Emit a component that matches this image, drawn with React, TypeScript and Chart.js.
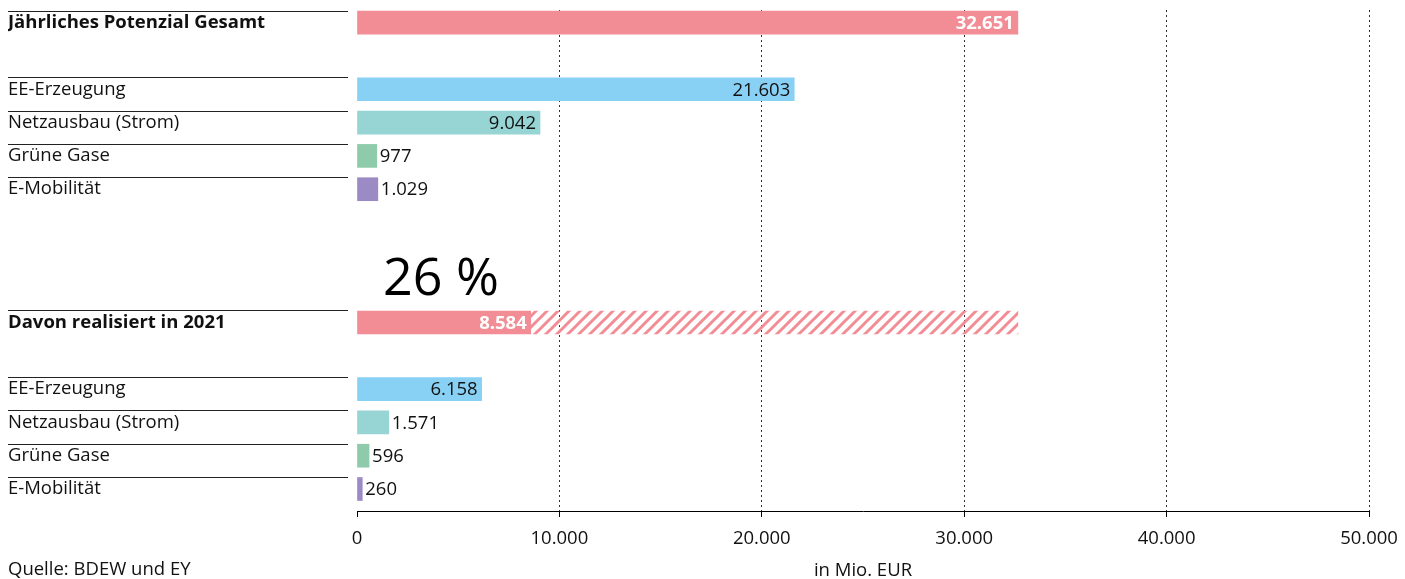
import React, { useEffect, useRef } from "react";
import { Chart, registerables } from "chart.js";

Chart.register(...registerables);

// Rows (index = row position from top)
const rowLabels: { row: number; label: string; bold: boolean }[] = [
  { row: 0, label: "Jährliches Potenzial Gesamt", bold: true },
  { row: 2, label: "EE-Erzeugung", bold: false },
  { row: 3, label: "Netzausbau (Strom)", bold: false },
  { row: 4, label: "Grüne Gase", bold: false },
  { row: 5, label: "E-Mobilität", bold: false },
  { row: 9, label: "Davon realisiert in 2021", bold: true },
  { row: 11, label: "EE-Erzeugung", bold: false },
  { row: 12, label: "Netzausbau (Strom)", bold: false },
  { row: 13, label: "Grüne Gase", bold: false },
  { row: 14, label: "E-Mobilität", bold: false },
];

const barRows = [0, 2, 3, 4, 5, 9, 11, 12, 13, 14];
const barValues = [32651, 21603, 9042, 977, 1029, 8584, 6158, 1571, 596, 260];
const barColors = [
  "#F28D95", "#89D1F4", "#97D4D4", "#8DCBAA", "#9C8AC4",
  "#F28D95", "#89D1F4", "#97D4D4", "#8DCBAA", "#9C8AC4",
];
const labelInside = [true, true, true, false, false, true, true, false, false, false];
const labelWhiteBold = [true, false, false, false, false, true, false, false, false, false];

const totalPotential = 32651;
const realizedTotal = 8584;
const realizedRow = 9;
const shareLabel = "26 %";

const xTicks = [0, 10000, 20000, 30000, 40000, 50000];
const xTitle = "in Mio. EUR";
const sourceText = "Quelle: BDEW und EY";

const FONT = "'Open Sans', 'DejaVu Sans', sans-serif";
const FS = 18.5;

function fmt(n: number): string {
  return String(Math.round(n)).replace(/\B(?=(\d{3})+(?!\d))/g, ".");
}

function makeHatch(color: string): CanvasPattern | string {
  const s = 11;
  const c = document.createElement("canvas");
  c.width = s;
  c.height = s;
  const g = c.getContext("2d");
  if (!g) return color;
  g.strokeStyle = color;
  g.lineWidth = 3;
  g.beginPath();
  g.moveTo(-s, s);
  g.lineTo(s, -s);
  g.moveTo(0, s);
  g.lineTo(s, 0);
  g.moveTo(0, 2 * s);
  g.lineTo(2 * s, 0);
  g.stroke();
  const p = g.createPattern(c, "repeat");
  return p || color;
}

export default function App() {
  const ref = useRef<HTMLCanvasElement | null>(null);

  useEffect(() => {
    if (!ref.current) return;
    const labelMap: Record<number, string> = {};
    const boldSet = new Set<number>();
    rowLabels.forEach((r) => {
      labelMap[r.row] = r.label;
      if (r.bold) boldSet.add(r.row);
    });

    const hatch = makeHatch("#F28D95");

    const decorPlugin = {
      id: "decor",
      afterDraw(chart: any) {
        const ctx = chart.ctx;
        const y = chart.scales.y;
        const area = chart.chartArea;
        ctx.save();
        // separator lines above labels
        ctx.strokeStyle = "#222";
        ctx.lineWidth = 1;
        rowLabels.forEach((r) => {
          const py = Math.round(y.getPixelForValue(r.row) - 12) + 0.5;
          ctx.beginPath();
          ctx.moveTo(8, py);
          ctx.lineTo(348, py);
          ctx.stroke();
        });
        // value labels
        const meta = chart.getDatasetMeta(0);
        meta.data.forEach((el: any, i: number) => {
          const v = barValues[i];
          ctx.textBaseline = "middle";
          if (labelWhiteBold[i]) {
            ctx.font = `bold ${FS}px ${FONT}`;
            ctx.fillStyle = "#fff";
          } else {
            ctx.font = `${FS}px ${FONT}`;
            ctx.fillStyle = "#111";
          }
          if (labelInside[i]) {
            ctx.textAlign = "right";
            ctx.fillText(fmt(v), el.x - 4, el.y + 1);
          } else {
            ctx.textAlign = "left";
            ctx.fillText(fmt(v), el.x + 3, el.y + 1);
          }
        });
        // share label
        ctx.font = `52px ${FONT}`;
        ctx.fillStyle = "#000";
        ctx.textAlign = "left";
        ctx.textBaseline = "alphabetic";
        ctx.fillText(shareLabel, area.left + 26, y.getPixelForValue(8.17));
        // axis title and source
        ctx.font = `${FS}px ${FONT}`;
        ctx.fillStyle = "#111";
        ctx.textBaseline = "middle";
        ctx.fillText(sourceText, 8, 570);
        ctx.textAlign = "center";
        ctx.fillText(xTitle, (area.left + area.right) / 2, 571);
        ctx.restore();
      },
    };

    const chart = new Chart(ref.current, {
      type: "bar",
      data: {
        datasets: [
          {
            data: barRows.map((r, i) => ({ x: barValues[i], y: r })) as any,
            backgroundColor: barColors,
            barThickness: 23,
          },
          {
            data: [{ x: totalPotential - realizedTotal, y: realizedRow }] as any,
            backgroundColor: hatch as any,
            barThickness: 23,
          },
        ],
      },
      options: {
        indexAxis: "y",
        animation: false,
        responsive: true,
        maintainAspectRatio: false,
        layout: { padding: { left: 8, right: 36, top: 10, bottom: 0 } },
        plugins: {
          legend: { display: false },
          tooltip: { enabled: false },
        },
        scales: {
          y: {
            type: "linear",
            reverse: true,
            min: -0.38,
            max: 14.66,
            offset: false,
            grace: 0,
            stacked: true,
            grid: { display: false, offset: false },
            border: { display: false },
            afterBuildTicks: (s: any) => {
              s.ticks = rowLabels.map((r) => ({ value: r.row }));
            },
            afterFit: (s: any) => {
              s.width = 349;
              s.paddingTop = 0;
              s.paddingBottom = 0;
            },
            ticks: {
              autoSkip: false,
              crossAlign: "far",
              color: "#111",
              padding: 0,
              callback: (v: any) => labelMap[v as number] ?? "",
              font: (c: any) => ({
                family: FONT,
                size: FS,
                weight: c.tick && boldSet.has(c.tick.value) ? "bold" : "normal",
              }),
            },
          },
          x: {
            type: "linear",
            min: 0,
            max: 50000,
            stacked: true,
            afterBuildTicks: (s: any) => {
              s.ticks = xTicks.map((v) => ({ value: v }));
            },
            afterFit: (s: any) => {
              s.height = 68;
              s.paddingLeft = 0;
              s.paddingRight = 0;
            },
            grid: {
              color: (c: any) => (c.tick && c.tick.value === 0 ? "rgba(0,0,0,0)" : "#333"),
              lineWidth: 1,
              tickColor: "#000",
              tickLength: 6,
            },
            border: { display: true, color: "#000", width: 1, dash: [2, 3] },
            ticks: {
              color: "#111",
              padding: 11,
              maxRotation: 0,
              font: { family: FONT, size: FS },
              callback: (v: any) => fmt(Number(v)),
            },
            title: { display: false },
          },
        },
      },
      plugins: [decorPlugin],
    });
    return () => chart.destroy();
  }, []);

  return (
    <div style={{ position: "fixed", left: 0, top: 0, width: 1405, height: 579, background: "#fff" }}>
      <canvas ref={ref} />
    </div>
  );
}
